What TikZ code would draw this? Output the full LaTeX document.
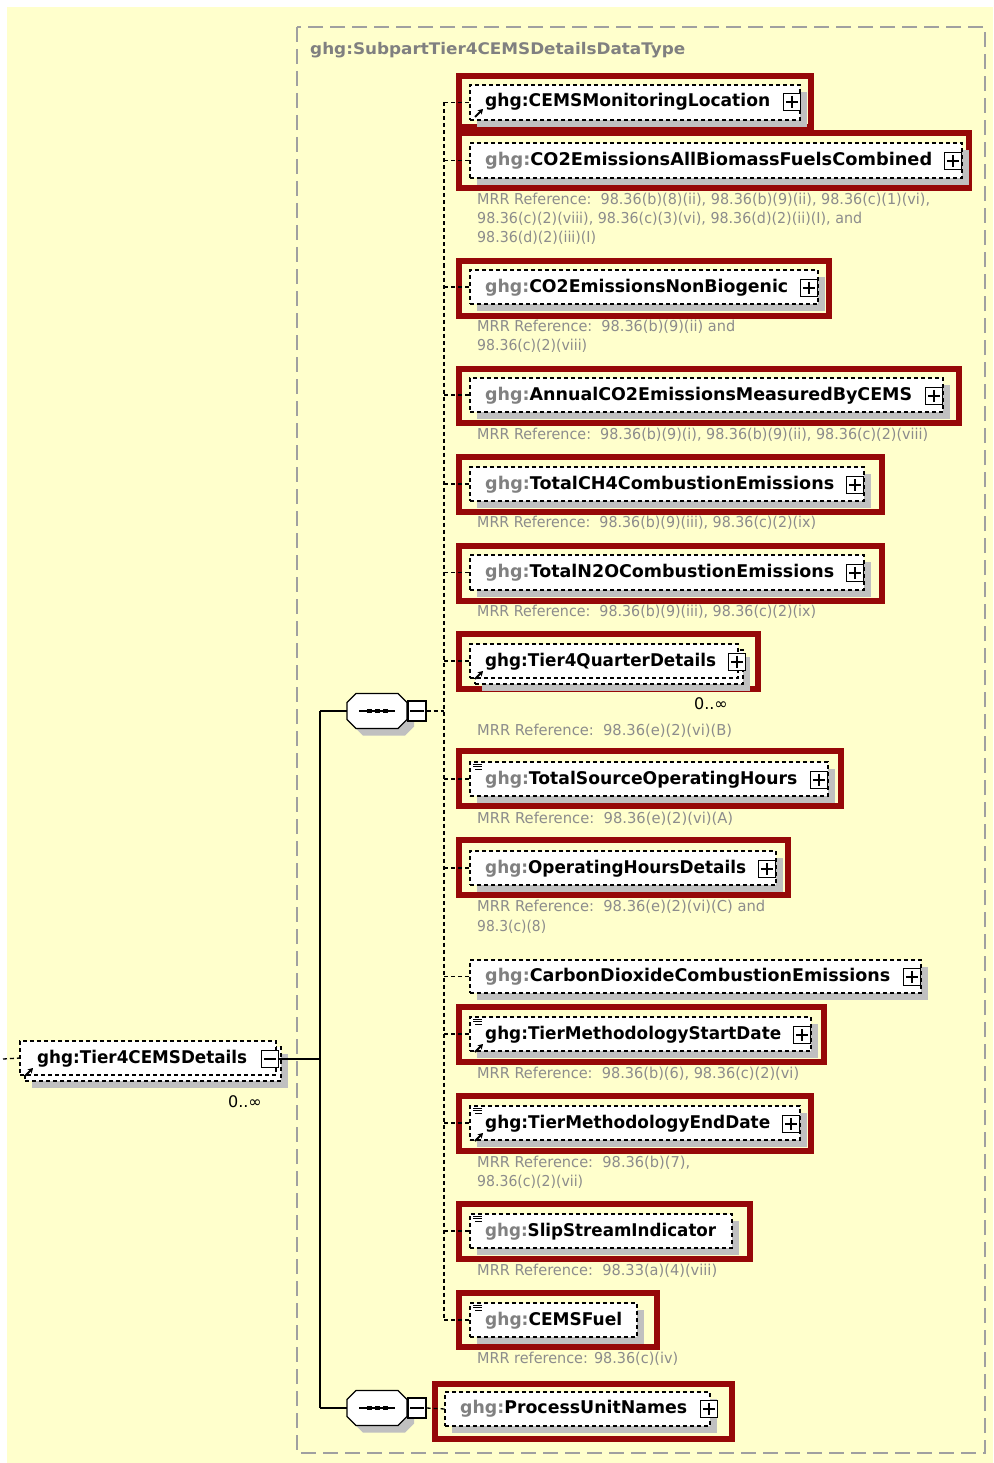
\documentclass[tikz,border=0pt]{standalone}
\usepackage{fontspec}
\usepackage{graphicx}
\setmainfont{DejaVu Sans}
\usetikzlibrary{shadows,fit,arrows.meta}
\definecolor{bgy}{RGB}{255,255,204}
\definecolor{frame}{RGB}{150,8,8}
\definecolor{gtxt}{RGB}{128,128,128}
\definecolor{mtxt}{RGB}{140,140,140}
\definecolor{shad}{RGB}{192,192,192}
\definecolor{tline}{RGB}{160,160,160}
\newcommand{\fitw}[2]{\resizebox{#1pt}{\height}{#2}}
\newcommand{\gp}{{\color{gtxt}ghg:}}
\newcommand{\octpath}[1]{([xshift=9pt]#1.north west) -- ([xshift=-9pt]#1.north east) -- ([yshift=-9pt]#1.north east) -- ([yshift=9pt]#1.south east) -- ([xshift=-9pt]#1.south east) -- ([xshift=9pt]#1.south west) -- ([yshift=9pt]#1.south west) -- ([yshift=-9pt]#1.north west) -- cycle}
\begin{document}
\begin{tikzpicture}[x=1pt,y=-1pt,
  redframe/.style={draw=frame, line width=6.5pt},
  ebox/.style={draw=black, fill=white, dash pattern=on 4pt off 3pt, line width=1.3pt, inner sep=0pt, outer sep=0pt,
    general shadow={fill=shad, shadow xshift=7pt, shadow yshift=-7pt}},
  eboxns/.style={draw=black, fill=white, dash pattern=on 4pt off 3pt, line width=1.3pt, inner sep=0pt, outer sep=0pt},
  ename/.style={font=\bfseries\fontsize{17.5}{19}\selectfont, anchor=west, inner sep=0pt},
  mrr/.style={font=\fontsize{15}{17}\selectfont, text=mtxt, anchor=west, inner sep=0pt},
  occ/.style={font=\fontsize{16}{18}\selectfont, anchor=east, inner sep=0pt},
  pmbox/.style={draw=black, fill=white, line width=1.2pt, minimum width=17pt, minimum height=17pt, inner sep=0pt},
  seqnode/.style={minimum width=60pt, minimum height=35pt, inner sep=0pt, outer sep=0pt},
  conn/.style={draw=black, line width=1.2pt},
  dconn/.style={draw=black, line width=1.3pt, dash pattern=on 4pt off 3pt},
  typebox/.style={draw=tline, line width=1.6pt, dash pattern=on 15pt off 7pt},
  typename/.style={font=\bfseries\fontsize{16}{18}\selectfont, text=gtxt, anchor=west, inner sep=0pt}
]
% canvas
\useasboundingbox (0,0) rectangle (993,1463);
\fill[white] (0,0) rectangle (993,1463);
\fill[bgy] (7,7) rectangle (993,1463);

% complex type frame
\draw[typebox] (297,27) rectangle (985,1453);
\node[typename] (tn) at (310,50) {\fitw{375}{ghg:SubpartTier4CEMSDetailsDataType}};

% ---------- red frames ----------
\draw[redframe] (459,76) rectangle (811,127);
\draw[redframe] (459,133) rectangle (969,188);
\draw[redframe] (459,261) rectangle (829,316);
\draw[redframe] (459,369) rectangle (959,423);
\draw[redframe] (459,457) rectangle (882,512);
\draw[redframe] (459,546) rectangle (882,601);
\draw[redframe] (459,634) rectangle (758,689);
\draw[redframe] (459,751) rectangle (841,806);
\draw[redframe] (459,840) rectangle (788,895);
\draw[redframe] (459,1007) rectangle (824,1062);
\draw[redframe] (459,1096) rectangle (811,1151);
\draw[redframe] (459,1204) rectangle (750,1259);
\draw[redframe] (459,1293) rectangle (657,1347);
\draw[redframe] (435,1384) rectangle (732,1439);

% ---------- left root element ----------
\node[ebox, fit={(25,1047) (281,1081)}] (e0b) {};
\node[eboxns, fit={(20,1041) (276,1075)}] (e0) {};
\node[ename] (t0) at (37,1059) {\fitw{210}{ghg:Tier4CEMSDetails}};
\node[pmbox] (m0) at (270,1059) {};
\draw[line width=1.2pt] ([xshift=3pt]m0.west) -- ([xshift=-3pt]m0.east);
\node[occ] (o0) at (262,1102) {0..∞};
\coordinate (lin) at (3,1059);

% ---------- sequences ----------
\node[seqnode] (sa) at (377,711) {};
\node[seqnode] (sb) at (377,1408) {};
\foreach \s in {sa,sb}{
  \fill[shad, transform canvas={shift={(7pt,-7pt)}}] \octpath{\s};
  \draw[fill=white, line width=1.2pt] \octpath{\s};
  \draw[line width=1.2pt] ([xshift=-18pt]\s.center) -- ([xshift=18pt]\s.center);
  \foreach \d in {-8,0,8}{\fill ([xshift=\d pt]\s.center) +(-2.5pt,-2.2pt) rectangle +(2.5pt,2.2pt);}
}
\node[pmbox, minimum width=18pt, minimum height=20pt] (sam) at (417,711) {};
\node[pmbox, minimum width=18pt, minimum height=20pt] (sbm) at (417,1408) {};
\foreach \m in {sam,sbm}{\draw[line width=1.2pt] ([xshift=3pt]\m.west) -- ([xshift=-3pt]\m.east);}

% ---------- child element boxes ----------
\node[ebox, fit={(470,85) (800,120)}] (e1) {};
\node[ebox, fit={(470,143) (962,178)}] (e2) {};
\node[ebox, fit={(470,270) (818,304)}] (e3) {};
\node[ebox, fit={(470,378) (943,412)}] (e4) {};
\node[ebox, fit={(470,467) (864,501)}] (e5) {};
\node[ebox, fit={(470,555) (864,590)}] (e6) {};
\node[ebox, fit={(475,650) (743,684)}] (e7b) {};
\node[eboxns, fit={(470,644) (738,678)}] (e7) {};
\node[ebox, fit={(470,762) (828,796)}] (e8) {};
\node[ebox, fit={(470,851) (776,885)}] (e9) {};
\node[ebox, fit={(470,960) (921,993)}] (e10) {};
\node[ebox, fit={(470,1017) (811,1051)}] (e11) {};
\node[ebox, fit={(470,1106) (800,1140)}] (e12) {};
\node[ebox, fit={(470,1214) (732,1248)}] (e13) {};
\node[ebox, fit={(470,1303) (637,1337)}] (e14) {};
\node[ebox, fit={(445,1392) (710,1426)}] (e15) {};

% names
\node[ename] (t1) at (485,102) {\fitw{285}{ghg:CEMSMonitoringLocation}};
\node[ename] (t2) at (485,161) {\fitw{447}{\gp CO2EmissionsAllBiomassFuelsCombined}};
\node[ename] (t3) at (485,288) {\fitw{303}{\gp CO2EmissionsNonBiogenic}};
\node[ename] (t4) at (485,396) {\fitw{427}{\gp AnnualCO2EmissionsMeasuredByCEMS}};
\node[ename] (t5) at (485,485) {\fitw{349}{\gp TotalCH4CombustionEmissions}};
\node[ename] (t6) at (485,573) {\fitw{349}{\gp TotalN2OCombustionEmissions}};
\node[ename] (t7) at (485,662) {\fitw{231}{ghg:Tier4QuarterDetails}};
\node[ename] (t8) at (485,780) {\fitw{312}{\gp TotalSourceOperatingHours}};
\node[ename] (t9) at (485,869) {\fitw{261}{\gp OperatingHoursDetails}};
\node[ename] (t10) at (485,977) {\fitw{405}{\gp CarbonDioxideCombustionEmissions}};
\node[ename] (t11) at (485,1035) {\fitw{296}{ghg:TierMethodologyStartDate}};
\node[ename] (t12) at (485,1124) {\fitw{285}{ghg:TierMethodologyEndDate}};
\node[ename] (t13) at (485,1232) {\fitw{231}{\gp SlipStreamIndicator}};
\node[ename] (t14) at (485,1321) {\fitw{137}{\gp CEMSFuel}};
\node[ename] (t15) at (460,1409) {\fitw{227}{\gp ProcessUnitNames}};
\node[occ] (o7) at (728,704) {0..∞};

% plus boxes
\foreach \n/\x/\y in {p1/792/102, p2/953/161, p3/809/288, p4/934/396, p5/855/485, p6/855/573,
  p7/737/662, p8/819/780, p9/767/869, p10/912/977, p11/802/1035, p12/791/1124, p15/709/1409}{
  \node[pmbox] (\n) at (\x,\y) {};
  \draw[line width=1.2pt] ([xshift=3pt]\n.west) -- ([xshift=-3pt]\n.east)
    ([yshift=-3pt]\n.north) -- ([yshift=3pt]\n.south);
}

% reference arrows
\foreach \x/\y in {475/117, 475/679, 475/1052, 475/1141, 25/1076}{
  \draw[line width=1.8pt, -{Stealth[length=5pt,width=6pt]}] (\x,\y) -- ++(8,-8);
}
% attribute icons
\foreach \x/\y in {473/764, 473/1019, 473/1108, 473/1216, 473/1305}{
  \draw[line width=1pt] (\x,\y) -- ++(9,0) (\x,\y+2.8) -- ++(9,0) (\x+2,\y+5.6) -- ++(7,0);
}

% MRR references
\node[mrr] (r2a) at (477,200) {\fitw{453}{MRR Reference:\ \ 98.36(b)(8)(ii), 98.36(b)(9)(ii), 98.36(c)(1)(vi),}};
\node[mrr] (r2b) at (477,219) {\fitw{385}{98.36(c)(2)(viii), 98.36(c)(3)(vi), 98.36(d)(2)(ii)(I), and}};
\node[mrr] (r2c) at (477,238) {\fitw{119}{98.36(d)(2)(iii)(I)}};
\node[mrr] (r3a) at (477,327) {\fitw{258}{MRR Reference:\ \ 98.36(b)(9)(ii) and}};
\node[mrr] (r3b) at (477,346) {\fitw{110}{98.36(c)(2)(viii)}};
\node[mrr] (r4) at (477,435) {\fitw{451}{MRR Reference:\ \ 98.36(b)(9)(i), 98.36(b)(9)(ii), 98.36(c)(2)(viii)}};
\node[mrr] (r5) at (477,523) {\fitw{339}{MRR Reference:\ \ 98.36(b)(9)(iii), 98.36(c)(2)(ix)}};
\node[mrr] (r6) at (477,612) {\fitw{339}{MRR Reference:\ \ 98.36(b)(9)(iii), 98.36(c)(2)(ix)}};
\node[mrr] (r7) at (477,731) {\fitw{255}{MRR Reference:\ \ 98.36(e)(2)(vi)(B)}};
\node[mrr] (r8) at (477,819) {\fitw{256}{MRR Reference:\ \ 98.36(e)(2)(vi)(A)}};
\node[mrr] (r9a) at (477,907) {\fitw{288}{MRR Reference:\ \ 98.36(e)(2)(vi)(C) and}};
\node[mrr] (r9b) at (477,927) {\fitw{69}{98.3(c)(8)}};
\node[mrr] (r11) at (477,1074) {\fitw{322}{MRR Reference:\ \ 98.36(b)(6), 98.36(c)(2)(vi)}};
\node[mrr] (r12a) at (477,1163) {\fitw{213}{MRR Reference:\ \ 98.36(b)(7),}};
\node[mrr] (r12b) at (477,1182) {\fitw{106}{98.36(c)(2)(vii)}};
\node[mrr] (r13) at (477,1271) {\fitw{240}{MRR Reference:\ \ 98.33(a)(4)(viii)}};
\node[mrr] (r14) at (477,1359) {\fitw{201}{MRR reference: 98.36(c)(iv)}};

% ---------- connectors ----------
\coordinate (vx) at (444,0);
\coordinate (bx) at (320,0);
\draw[dconn] (lin) -- (e0.west);
\draw[conn] (m0.east) -- (m0.east -| bx);
\draw[conn] (sa.west -| bx) -- (sb.west -| bx);
\draw[conn] (sa.west -| bx) -- (sa.west);
\draw[conn] (sb.west -| bx) -- (sb.west);
\draw[dconn] (sam.east) -- (sam.east -| vx);
\draw[dconn] (e1.west -| vx) -- (e14.west -| vx);
\foreach \i in {1,...,14}{\draw[dconn] (e\i.west -| vx) -- (e\i.west);}
\draw[dconn] (sbm.east) -- (e15.west);
\end{tikzpicture}
\end{document}
